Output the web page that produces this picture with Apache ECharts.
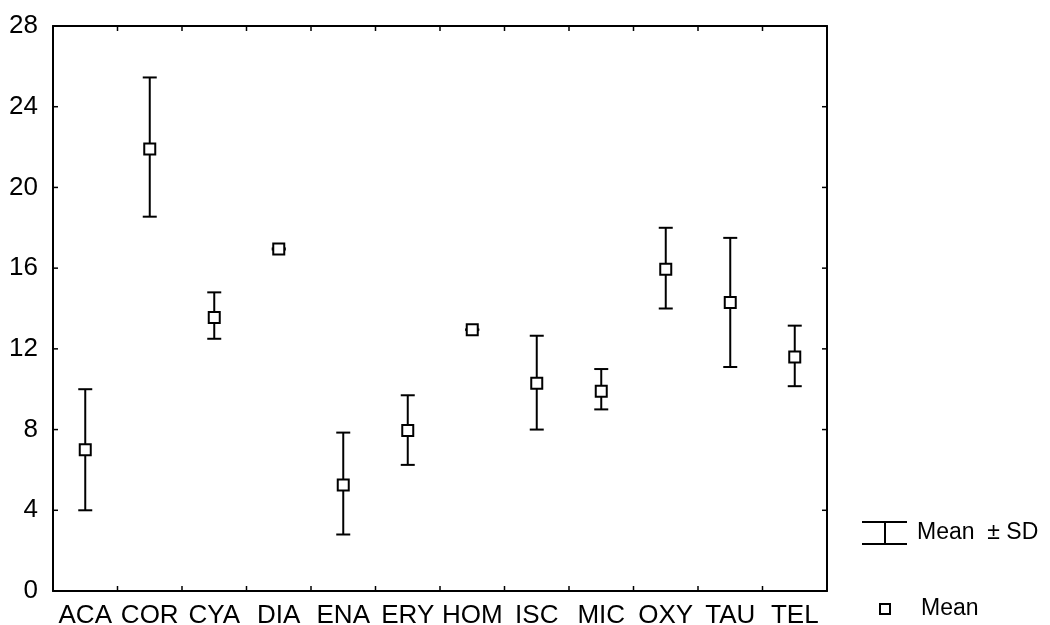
<!DOCTYPE html>
<html>
<head>
<meta charset="utf-8">
<script src="https://cdn.jsdelivr.net/npm/echarts@6/dist/echarts.min.js"></script>
<style>
  html, body { margin: 0; padding: 0; background: #fff; }
  #main { width: 1050px; height: 625px; }
</style>
</head>
<body>
<div id="main"></div>
<script>
// 数据
var categories = ['ACA', 'COR', 'CYA', 'DIA', 'ENA', 'ERY', 'HOM', 'ISC', 'MIC', 'OXY', 'TAU', 'TEL']
var means = [7.0, 21.9, 13.55, 16.95, 5.25, 7.95, 12.95, 10.3, 9.9, 15.95, 14.3, 11.6]
var lows = [4.0, 18.55, 12.5, 16.92, 2.8, 6.25, 12.93, 8.0, 9.0, 14.0, 11.1, 10.15]
var highs = [10.0, 25.45, 14.8, 16.98, 7.85, 9.7, 12.97, 12.65, 11.0, 18.0, 17.5, 13.15]
var yTicks = [0, 28, 4] // min, max, interval

var font = 'Liberation Sans, Arial, sans-serif'

var barData = categories.map(function (c, i) {
    return [i, lows[i], highs[i]]
})

var myChart = echarts.init(document.getElementById('main'))

function renderErrorBar(params, api) {
    var x = api.value(0)
    var lo = api.coord([x, api.value(1)])
    var hi = api.coord([x, api.value(2)])
    var half = 7
    var style = { stroke: '#000', lineWidth: 2 }
    return {
        type: 'group',
        children: [
            { type: 'line', shape: { x1: hi[0], y1: hi[1], x2: lo[0], y2: lo[1] }, style: style },
            { type: 'line', shape: { x1: hi[0] - half, y1: hi[1], x2: hi[0] + half, y2: hi[1] }, style: style },
            { type: 'line', shape: { x1: lo[0] - half, y1: lo[1], x2: lo[0] + half, y2: lo[1] }, style: style }
        ]
    }
}

// 四周朝内的刻度
function renderTicks(params, api) {
    var cs = params.coordSys
    var len = 5
    var style = { stroke: '#000', lineWidth: 1.5 }
    var kids = []
    var step = cs.width / categories.length
    for (var i = 1; i < categories.length; i++) {
        var x = cs.x + step * i
        kids.push({ type: 'line', shape: { x1: x, y1: cs.y + cs.height, x2: x, y2: cs.y + cs.height - len }, style: style })
        kids.push({ type: 'line', shape: { x1: x, y1: cs.y, x2: x, y2: cs.y + len }, style: style })
    }
    for (var v = yTicks[0] + yTicks[2]; v < yTicks[1]; v += yTicks[2]) {
        var y = api.coord([0, v])[1]
        kids.push({ type: 'line', shape: { x1: cs.x, y1: y, x2: cs.x + len, y2: y }, style: style })
        kids.push({ type: 'line', shape: { x1: cs.x + cs.width, y1: y, x2: cs.x + cs.width - len, y2: y }, style: style })
    }
    return { type: 'group', children: kids }
}

var axisLine = { show: true, onZero: false, lineStyle: { color: '#000', width: 2 } }

var option = {
    animation: false,
    backgroundColor: '#fff',
    grid: { left: 53, right: 223, top: 26, bottom: 34, containLabel: false, outerBoundsMode: 'none' },
    xAxis: [
        {
            type: 'category',
            data: categories,
            boundaryGap: true,
            axisLine: axisLine,
            axisTick: { show: false },
            axisLabel: { color: '#000', fontSize: 26, fontFamily: font, margin: 12, interval: 0 },
            splitLine: { show: false }
        },
        {
            type: 'category',
            position: 'top',
            data: categories,
            boundaryGap: true,
            axisLine: axisLine,
            axisTick: { show: false },
            axisLabel: { show: false },
            splitLine: { show: false }
        }
    ],
    yAxis: [
        {
            type: 'value',
            min: yTicks[0],
            max: yTicks[1],
            interval: yTicks[2],
            axisLine: axisLine,
            axisTick: { show: false },
            axisLabel: { color: '#000', fontSize: 26, fontFamily: font, margin: 15 },
            splitLine: { show: false }
        },
        {
            type: 'value',
            position: 'right',
            min: yTicks[0],
            max: yTicks[1],
            interval: yTicks[2],
            axisLine: axisLine,
            axisTick: { show: false },
            axisLabel: { show: false },
            splitLine: { show: false }
        }
    ],
    series: [
        {
            name: 'ticks',
            type: 'custom',
            renderItem: renderTicks,
            data: [[0, 0]],
            silent: true,
            z: 1
        },
        {
            name: 'Mean  ± SD',
            type: 'custom',
            renderItem: renderErrorBar,
            data: barData,
            encode: { x: 0, y: [1, 2] },
            z: 2
        },
        {
            name: 'Mean',
            type: 'scatter',
            symbol: 'rect',
            symbolSize: 11,
            data: means,
            itemStyle: { color: '#fff', borderColor: '#000', borderWidth: 2, opacity: 1 },
            z: 3
        }
    ],
    // 图例（手绘）
    graphic: [
        { type: 'line', shape: { x1: 862, y1: 522, x2: 907, y2: 522 }, style: { stroke: '#000', lineWidth: 2 } },
        { type: 'line', shape: { x1: 862, y1: 544, x2: 907, y2: 544 }, style: { stroke: '#000', lineWidth: 2 } },
        { type: 'line', shape: { x1: 885, y1: 522, x2: 885, y2: 544 }, style: { stroke: '#000', lineWidth: 2 } },
        { type: 'text', left: 917, top: 521, style: { text: 'Mean  ± SD', fill: '#000', font: '23px ' + font } },
        { type: 'rect', shape: { x: 880, y: 604, width: 10, height: 10 }, style: { fill: '#fff', stroke: '#000', lineWidth: 2 } },
        { type: 'text', left: 921, top: 597, style: { text: 'Mean', fill: '#000', font: '23px ' + font } }
    ]
}

myChart.setOption(option)
</script>
</body>
</html>
